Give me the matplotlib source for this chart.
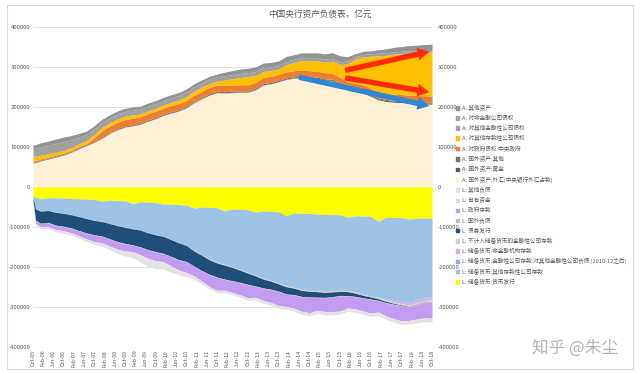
import matplotlib
matplotlib.use('Agg')
import matplotlib.pyplot as plt
import numpy as np
from matplotlib.patches import Patch, Rectangle

plt.rcParams['font.family'] = ['Noto Sans CJK SC', 'DejaVu Sans']

# ---------------- data (亿元) ----------------
dates = ['2005-10', '2005-11', '2006-01', '2006-04', '2006-07', '2006-10', '2007-01', '2007-04', '2007-07',
         '2007-10', '2008-01', '2008-04', '2008-07', '2008-10', '2009-01', '2009-04', '2009-07', '2009-10',
         '2010-01', '2010-04', '2010-07', '2010-10', '2011-01', '2011-04', '2011-07', '2011-10', '2012-01',
         '2012-04', '2012-07', '2012-10', '2013-01', '2013-04', '2013-07', '2013-10', '2014-01', '2014-04',
         '2014-07', '2014-10', '2015-01', '2015-04', '2015-07', '2015-10', '2016-01', '2016-04', '2016-07',
         '2016-10', '2017-01', '2017-04', '2017-07', '2017-10', '2018-01', '2018-04', '2018-07', '2018-10']

# assets (stacked upward from 0, bottom first)
a_fx = [60000, 61000, 65500, 70000, 75000, 80000, 87000, 96000, 104000, 112000, 122000, 134000, 143000, 150000,
        153000, 157000, 165000, 171000, 179000, 185000, 190000, 198000, 211000, 221000, 230000, 236000, 235000,
        236000, 237000, 237000, 243000, 255000, 258000, 263000, 269000, 272000, 273000, 272000, 271000, 267000,
        265000, 254000, 243000, 239000, 235000, 227000, 218000, 214000, 212000, 211000, 210000, 209000, 208000, 207000]
a_gold = [337, 337, 337, 337, 337, 337, 337, 337, 337, 337, 337, 337, 337, 337, 337, 669, 669, 669, 669, 669, 669,
          669, 669, 669, 669, 669, 669, 669, 669, 669, 669, 669, 669, 669, 669, 669, 669, 669, 669, 669, 1500, 2330,
          2330, 2330, 2330, 2330, 2330, 2480, 2480, 2480, 2480, 2480, 2480, 2480]
a_fother = [1500, 1500, 1600, 1600, 1700, 1700, 1800, 1800, 1900, 1900, 2000, 2000, 2100, 2100, 2200, 2200, 2300,
            2300, 2400, 2400, 2400, 2500, 2500, 2500, 2600, 2600, 2600, 2700, 2700, 2700, 2800, 2800, 2800, 2900,
            2900, 2900, 2900, 2900, 2900, 2800, 2800, 2700, 2600, 2500, 2400, 2300, 2300, 2300, 2300, 2300, 2300,
            2300, 2300, 2300]
a_gov = [2900, 2900, 2900, 2900, 2900, 2900, 2900, 2900, 2900, 10000, 16300, 16300, 16300, 16300, 16300, 15700,
         15700, 15700, 15700, 15600, 15500, 15400, 15400, 15400, 15400, 15400, 15400, 15300, 15300, 15300, 15300,
         15300, 15300, 15300, 15300, 15300, 15300, 15300, 15300, 15300, 15300, 15300, 15300, 15300, 15300, 15300,
         15300, 15300, 15300, 15300, 15300, 15300, 15300, 15300]
a_odc = [12000, 11000, 9000, 8000, 7000, 6500, 6500, 7000, 7500, 7800, 8000, 8000, 8200, 8300, 8400, 7000, 7000,
         7100, 7200, 8000, 9000, 9500, 10000, 10000, 10200, 10200, 14000, 16000, 18000, 20000, 17000, 15000, 14000,
         13000, 18000, 20000, 24000, 25000, 26000, 26500, 30000, 32000, 45000, 60000, 70000, 80000, 90000, 95000,
         100000, 102000, 105000, 106000, 108000, 110000]
a_ofc = [20000, 20000, 21000, 21500, 22000, 22000, 20000, 17000, 15000, 13000, 12500, 12000, 12000, 11900, 11800,
         11700, 11600, 11500, 11400, 11400, 11300, 11300, 11000, 10900, 10800, 10700, 10500, 10300, 10200, 10000,
         9800, 9500, 9200, 8900, 8500, 8300, 8100, 7900, 7700, 7400, 7100, 6800, 6600, 6500, 6400, 6300, 6200,
         6100, 6000, 6000, 5600, 5300, 5000, 4700]
a_nfc = [66, 66, 66, 66, 66, 66, 66, 66, 66, 64, 64, 64, 64, 64, 44, 44, 44, 44, 44, 44, 44, 44, 25, 25, 25, 25,
         25, 25, 25, 25, 25, 25, 25, 25, 25, 25, 25, 25, 25, 25, 25, 25, 25, 25, 25, 25, 25, 25, 25, 25, 25, 25, 25, 25]
a_other = [9000, 9000, 10000, 10500, 11000, 11400, 10000, 9000, 8500, 8500, 8200, 8000, 8000, 8000, 7900, 7800,
           7800, 7800, 7700, 7600, 7600, 7600, 7400, 7200, 7100, 7100, 9000, 10000, 11000, 11000, 11500, 11500,
           11500, 11500, 12000, 11500, 11500, 11500, 12000, 13000, 14000, 15000, 11000, 8000, 7500, 7100, 9000,
           10000, 11000, 12000, 13000, 14000, 15000, 15500]

# liabilities (magnitudes, stacked downward from 0, top first)
l_cur = [24000, 24500, 30000, 26500, 27000, 27500, 29000, 29500, 30500, 31000, 36000, 33000, 34000, 34500, 42000,
         37000, 38000, 39000, 43000, 43000, 44000, 45500, 53000, 50000, 51000, 52000, 60000, 55000, 56000, 57000,
         63000, 60000, 61000, 62000, 72000, 65000, 65500, 66000, 68000, 68500, 69000, 69500, 76000, 72000, 72500,
         73500, 86000, 76000, 76000, 77000, 80000, 78000, 78000, 79000]
l_odc = [2000, 30000, 30000, 32000, 36000, 38000, 40000, 44000, 48000, 52000, 50000, 58000, 62000, 66000, 62000,
         70000, 76000, 80000, 80000, 88000, 95000, 100000, 105000, 118000, 128000, 135000, 132000, 143000, 149000,
         155000, 156000, 167000, 171000, 177000, 174000, 184000, 189000, 191000, 189000, 191000, 189000, 187000,
         181000, 189000, 194000, 197000, 189000, 203000, 206000, 208000, 208000, 203000, 198000, 196000]
l_ofc = [0, 0, 0, 0, 0, 0, 0, 0, 0, 0, 0, 0, 0, 0, 0, 0, 0, 0, 0, 0, 0, 0, 1200, 1300, 1300, 1400, 1400, 1400,
         1500, 1500, 1500, 1500, 1500, 1500, 1500, 1500, 1500, 1500, 1500, 1500, 1500, 1500, 1500, 1500, 1500,
         1500, 1500, 1500, 1500, 1500, 1500, 1500, 1500, 1500]
l_nfi = [0, 0, 0, 0, 0, 0, 0, 0, 0, 0, 0, 0, 0, 0, 0, 0, 0, 0, 0, 0, 0, 0, 0, 0, 0, 0, 0, 0, 0, 0, 0, 0, 0, 0,
         0, 0, 0, 0, 0, 0, 0, 0, 0, 0, 0, 0, 0, 2000, 4000, 5000, 6000, 6000, 6000, 6000]
l_excl = [0, 500, 500, 500, 500, 500, 500, 500, 500, 600, 600, 600, 600, 600, 700, 700, 700, 700, 700, 700, 700,
          700, 1000, 1500, 2000, 2000, 2000, 2000, 2000, 2000, 2000, 2000, 2000, 2000, 2000, 2500, 2500, 2500,
          3000, 3000, 3000, 3000, 3000, 3000, 3000, 3000, 3000, 3500, 3500, 3500, 4000, 4000, 4000, 4000]
l_bond = [8000, 28000, 30000, 30000, 32000, 32000, 33000, 35000, 36000, 36000, 36000, 38000, 40000, 40000, 40000,
          42000, 42000, 42000, 42000, 42000, 42000, 40000, 38000, 38000, 36000, 35000, 35000, 33000, 30000, 28000,
          25000, 22000, 20000, 18000, 18000, 16000, 15000, 14000, 14000, 12000, 12000, 10000, 10000, 8000, 6000,
          5000, 4000, 3000, 2000, 1500, 1000, 800, 600, 500]
l_fl = [900, 900, 900, 900, 900, 900, 900, 900, 900, 900, 900, 900, 900, 900, 800, 800, 800, 800, 800, 800, 800,
        800, 800, 800, 800, 800, 800, 1000, 1000, 1000, 1000, 1000, 1000, 1000, 1000, 1000, 1000, 1000, 1000,
        1000, 1000, 1000, 1000, 1000, 1000, 1000, 1000, 1000, 1000, 1000, 1000, 1000, 1000, 1000]
l_gov = [3000, 7500, 8000, 9000, 10000, 10500, 11000, 12000, 14000, 16000, 16000, 17000, 18000, 18000, 16000,
         19000, 21000, 22000, 20000, 23000, 25000, 27000, 23000, 26000, 30000, 32000, 27000, 28000, 30000, 32000,
         27000, 30000, 32000, 35000, 30000, 33000, 36000, 38000, 32000, 34000, 36000, 38000, 30000, 30000, 32000,
         34000, 28000, 32000, 35000, 37000, 32000, 36000, 38000, 40000]
l_own = [219, 219, 219, 219, 219, 219, 219, 219, 219, 219, 219, 219, 219, 219, 219, 219, 219, 219,
         219, 219, 219, 219, 219, 219, 219, 219, 219, 219, 219, 219, 219, 219, 219, 219, 219, 219,
         219, 219, 219, 219, 219, 219, 219, 219, 219, 219, 219, 219, 219, 219, 219, 219, 219, 219]
l_oth = [3000, 5000, 5000, 5000, 5500, 6000, 6000, 6000, 6500, 7000, 8000, 9000, 10000, 12000, 15000, 18000,
         20000, 20000, 18000, 15000, 12000, 10000, 8000, 7000, 6000, 6000, 6000, 6000, 6500, 6500, 6500, 7000,
         7000, 7000, 7000, 7000, 7500, 7500, 7500, 8000, 8000, 8000, 8000, 8000, 8000, 8500, 8500, 8500, 9000,
         9000, 9000, 9000, 9500, 9500]

asset_labels = ['A: 国外资产:外汇(中央银行外汇占款)', 'A: 国外资产:黄金', 'A: 国外资产:其他', 'A: 对政府债权:中央政府',
                'A: 对其他存款性公司债权', 'A: 对其他金融性公司债权', 'A: 对非金融公司债权', 'A: 其他资产']
liab_labels = ['L: 储备货币:货币发行', 'L: 储备货币:其他存款性公司存款',
               'L: 储备货币:金融性公司存款:对其他金融性公司负债 (2010-12之后)', 'L: 储备货币:非金融机构存款',
               'L: 不计入储备货币的金融性公司存款', 'L: 债券发行', 'L: 国外负债', 'L: 政府存款', 'L: 自有资金', 'L: 其他负债']

tick_labels = ['Oct-05', 'Feb-06', 'Jun-06', 'Oct-06', 'Feb-07', 'Jun-07', 'Oct-07', 'Feb-08', 'Jun-08', 'Oct-08',
               'Feb-09', 'Jun-09', 'Oct-09', 'Feb-10', 'Jun-10', 'Oct-10', 'Feb-11', 'Jun-11', 'Oct-11', 'Feb-12',
               'Jun-12', 'Oct-12', 'Feb-13', 'Jun-13', 'Oct-13', 'Feb-14', 'Jun-14', 'Oct-14', 'Feb-15', 'Jun-15',
               'Oct-15', 'Feb-16', 'Jun-16', 'Oct-16', 'Feb-17', 'Jun-17', 'Oct-17', 'Feb-18', 'Jun-18', 'Oct-18']

# annotation arrows: (start date, start value, end date, end value, colour)
arrows = [('2014-05', 276000, '2018-10', 201000, '#2E86D6'),
          ('2015-11', 290000, '2018-10', 340000, '#FF2A0A'),
          ('2015-11', 274000, '2018-10', 236000, '#FF2A0A')]

title = '中国央行资产负债表，亿元'
watermark = '知乎 @朱尘'

# ---------------- drawing ----------------
asset_colors = ['#FDF0D5', '#5A5A5A', '#6E6E6E', '#ED7D31', '#FFC000', '#A0A0A0', '#A0A0A0', '#939393']
liab_colors = ['#FFFF00', '#9DC3E6', '#8FAADC', '#D9A8F0', '#D0D0D0', '#1F4E79', '#BFBFBF', '#C39BF0', '#D9D9D9', '#E3E3E3']


def month_index(d):
    y, m = d.split('-')
    return (int(y) - 2005) * 12 + int(m) - 10


x = np.array([month_index(d) for d in dates], dtype=float)

fig = plt.figure(figsize=(6.4, 3.74), dpi=100)
fig.add_artist(Rectangle((7 / 640, 1 - 369 / 374), 626 / 640, 364 / 374, transform=fig.transFigure,
                         fill=False, edgecolor='#D9D9D9', linewidth=0.8))
ax = fig.add_axes([33 / 640, 1 - 347 / 374, 399 / 640, 320 / 374])

grey = '#595959'
ax.set_ylim(-400000, 400000)
ax.set_xlim(0, 156)
yt = np.arange(-400000, 400001, 100000)
ax.set_yticks(yt)
ax.set_yticklabels([str(v) for v in yt], fontsize=4.3, color=grey)
ax.yaxis.grid(True, color='#E3E3E3', linewidth=0.7)
ax.set_axisbelow(True)
for s in ax.spines.values():
    s.set_visible(False)
ax.tick_params(axis='both', length=0, pad=2)
ax.set_xticks([month_index('2005-10') + 4 * i for i in range(len(tick_labels))])
ax.set_xticklabels(tick_labels, rotation=90, fontsize=3.8, color=grey)

handles = {}
base = np.zeros_like(x)
for vals, lab, col in zip([a_fx, a_gold, a_fother, a_gov, a_odc, a_ofc, a_nfc, a_other], asset_labels, asset_colors):
    top = base + np.array(vals, dtype=float)
    ax.fill_between(x, base, top, color=col, linewidth=0, zorder=2)
    handles[lab] = Patch(color=col)
    base = top
base = np.zeros_like(x)
for vals, lab, col in zip([l_cur, l_odc, l_ofc, l_nfi, l_excl, l_bond, l_fl, l_gov, l_own, l_oth], liab_labels, liab_colors):
    bot = base - np.array(vals, dtype=float)
    ax.fill_between(x, bot, base, color=col, linewidth=0, zorder=2)
    handles[lab] = Patch(color=col)
    base = bot

ax2 = ax.twinx()
ax2.set_ylim(-400000, 400000)
ax2.set_yticks(yt)
ax2.set_yticklabels([str(v) for v in yt], fontsize=4.3, color=grey)
ax2.tick_params(axis='y', length=0, pad=4)
for s in ax2.spines.values():
    s.set_visible(False)

for d0, v0, d1, v1, col in arrows:
    ax2.annotate('', xy=(month_index(d1), v1), xytext=(month_index(d0), v0),
                 arrowprops=dict(arrowstyle='simple,head_length=1.2,head_width=1.3,tail_width=0.55',
                                 color=col, linewidth=0, mutation_scale=7), zorder=5, annotation_clip=False)

order = list(reversed(asset_labels)) + list(reversed(liab_labels))
leg = fig.legend([handles[k] for k in order], order, loc='upper left', bbox_to_anchor=(456 / 640, 1 - 105 / 374),
                 frameon=False, fontsize=4.1, handlelength=0.55, handleheight=0.55, handletextpad=0.45,
                 labelspacing=0.72, borderaxespad=0, borderpad=0)
for t in leg.get_texts():
    t.set_color(grey)

fig.text(0.5, 1 - 14 / 374, title, ha='center', va='center', fontsize=6.2, color=grey)
fig.text(575 / 640, 1 - 348 / 374, watermark, ha='center', va='center', fontsize=12, color='#B5B5B5')

fig.savefig('out.png', dpi=100)
